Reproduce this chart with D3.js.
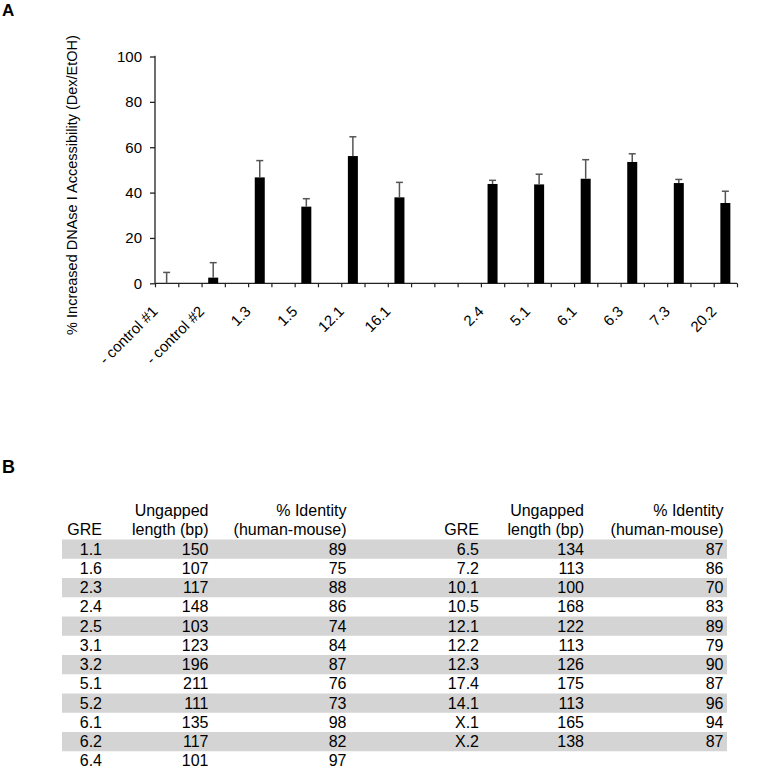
<!DOCTYPE html>
<html>
<head>
<meta charset="utf-8">
<script src="https://cdn.jsdelivr.net/npm/d3@7/dist/d3.min.js"></script>
<style>
  html, body { margin: 0; padding: 0; background: #fff; }
  svg text { font-family: "Liberation Sans", Arial, Helvetica, sans-serif; fill: #000; }
</style>
</head>
<body>
<svg id="chart" width="762" height="768"></svg>
<script>
// ---------- Panel A data ----------
const categories = ["- control #1", "- control #2", "1.3", "1.5", "12.1", "16.1", "", "2.4", "5.1", "6.1", "6.3", "7.3", "20.2"];
const values = [0, 2.5, 46.7, 33.8, 56.1, 37.9, null, 43.8, 43.6, 46.1, 53.5, 44.2, 35.4];
const errors = [4.8, 6.6, 7.4, 3.5, 8.5, 6.6, null, 1.6, 4.5, 8.4, 3.6, 1.6, 5.2];
const yTicks = [0, 20, 40, 60, 80, 100];
const yTitle = "% Increased DNAse I Accessibility (Dex/EtOH)";

// ---------- Panel B data ----------
const tableHeaders = [["", "GRE"], ["Ungapped", "length (bp)"], ["% Identity", "(human-mouse)"]];
const leftGRE = ["1.1", "1.6", "2.3", "2.4", "2.5", "3.1", "3.2", "5.1", "5.2", "6.1", "6.2", "6.4"];
const leftLength = [150, 107, 117, 148, 103, 123, 196, 211, 111, 135, 117, 101];
const leftIdentity = [89, 75, 88, 86, 74, 84, 87, 76, 73, 98, 82, 97];
const rightGRE = ["6.5", "7.2", "10.1", "10.5", "12.1", "12.2", "12.3", "17.4", "14.1", "X.1", "X.2"];
const rightLength = [134, 113, 100, 168, 122, 113, 126, 175, 113, 165, 138];
const rightIdentity = [87, 86, 70, 83, 89, 79, 90, 87, 96, 94, 87];

const svg = d3.select("#chart");

// Panel letters
svg.append("text").attr("x", 2).attr("y", 16).attr("font-size", 17).attr("font-weight", "bold").text("A");
svg.append("text").attr("x", 2).attr("y", 473).attr("font-size", 18).attr("font-weight", "bold").text("B");

// ---------- Chart ----------
const nSlots = categories.length * 2 - 1; // each category + spacer slot
const x = d3.scaleLinear().domain([0, nSlots]).range([155, 737]);
const y = d3.scaleLinear().domain([0, 100]).range([283.3, 56.5]);
const center = i => x(2 * i + 0.5);
const barW = 10;

const g = svg.append("g");

// y axis
const yAxis = g.append("g").attr("transform", `translate(${x(0)},0)`)
  .call(d3.axisLeft(y).tickValues(yTicks).tickSize(5).tickPadding(8).tickFormat(d3.format("d")));
yAxis.select(".domain").attr("d", `M-0.5,${y(100)}H0V${y(0)}`).attr("stroke", "#222").attr("stroke-width", 1.3);
yAxis.selectAll(".tick line").attr("stroke", "#222").attr("stroke-width", 1.3);
yAxis.selectAll(".tick text").attr("font-size", 15).attr("font-family", "Liberation Sans, Arial, sans-serif").attr("fill", "#000");

// x axis
const xAxis = g.append("g").attr("transform", `translate(0,${y(0)})`)
  .call(d3.axisBottom(x).tickValues(d3.range(0, nSlots + 1)).tickSize(4).tickFormat(""));
xAxis.select(".domain").attr("d", `M${x(0)},0H${x(nSlots)}`).attr("stroke", "#222").attr("stroke-width", 1.3);
xAxis.selectAll(".tick line").attr("stroke", "#222").attr("stroke-width", 1.2);

// bars
const data = categories.map((c, i) => ({ c, i, v: values[i], e: errors[i] })).filter(d => d.v !== null);
g.selectAll("rect.bar").data(data).enter().append("rect")
  .attr("class", "bar")
  .attr("x", d => center(d.i) - barW / 2)
  .attr("width", barW)
  .attr("y", d => y(d.v))
  .attr("height", d => y(0) - y(d.v))
  .attr("fill", "#000");

// error bars (upper only)
const eb = g.selectAll("g.err").data(data).enter().append("g").attr("class", "err")
  .attr("stroke", "#555").attr("stroke-width", 1.5);
eb.append("line")
  .attr("x1", d => center(d.i)).attr("x2", d => center(d.i))
  .attr("y1", d => y(d.v)).attr("y2", d => y(d.v + d.e));
eb.append("line")
  .attr("x1", d => center(d.i) - 3.5).attr("x2", d => center(d.i) + 3.5)
  .attr("y1", d => y(d.v + d.e)).attr("y2", d => y(d.v + d.e));

// x labels, rotated
g.selectAll("text.xl").data(categories.map((c, i) => ({ c, i })).filter(d => d.c !== "")).enter().append("text")
  .attr("class", "xl")
  .attr("font-size", 15)
  .attr("text-anchor", "end")
  .attr("transform", d => `translate(${center(d.i) - 8},${y(0) + 29}) rotate(-45)`)
  .text(d => d.c);

// y title
svg.append("text")
  .attr("font-size", 14.5)
  .attr("text-anchor", "middle")
  .attr("transform", `translate(77,185) rotate(-90)`)
  .text(yTitle);

// ---------- Table ----------
const rowTop = 539.5, rowH = 19.25;
const nRows = Math.max(leftGRE.length, rightGRE.length);
const tg = svg.append("g");
tg.selectAll("rect.band").data(d3.range(nRows).filter(i => i % 2 === 0)).enter().append("rect")
  .attr("x", 62).attr("width", 727 - 62)
  .attr("y", i => rowTop + i * rowH).attr("height", rowH)
  .attr("fill", "#d4d4d4");

function drawTable(cols, colX) {
  // headers
  tableHeaders.forEach((h, ci) => {
    h.forEach((line, li) => {
      if (!line) return;
      tg.append("text").attr("font-size", 16).attr("text-anchor", "end")
        .attr("x", colX[ci]).attr("y", 516 + li * rowH).text(line);
    });
  });
  cols.forEach((col, ci) => {
    tg.selectAll(null).data(col).enter().append("text")
      .attr("font-size", 16).attr("text-anchor", "end")
      .attr("x", colX[ci])
      .attr("y", (d, i) => rowTop + i * rowH + rowH / 2 + 5.5)
      .text(d => d);
  });
}
drawTable([leftGRE, leftLength, leftIdentity], [102, 208.5, 346.5]);
drawTable([rightGRE, rightLength, rightIdentity], [479, 584, 723.5]);
</script>
</body>
</html>
